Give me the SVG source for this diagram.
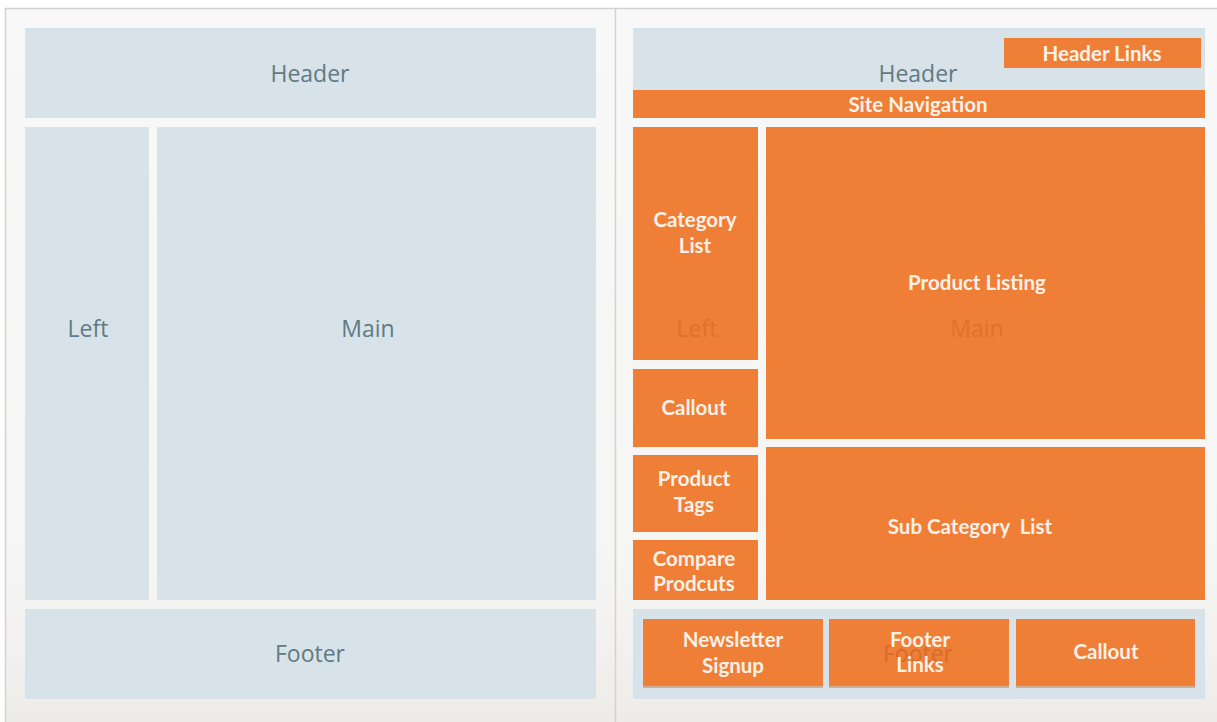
<svg xmlns="http://www.w3.org/2000/svg" width="1217" height="722" viewBox="0 0 1217 722">
<defs>
<linearGradient id="bg" x1="0" y1="0" x2="0" y2="1">
<stop offset="0" stop-color="#f8f8f8"/>
<stop offset="0.8" stop-color="#f5f5f4"/>
<stop offset="1" stop-color="#eeece9"/>
</linearGradient>
</defs>
<style>
.blue{fill:#d7e3e8}
.org{fill:#ef7e36}
.lbl{font-family:"Open Sans","Noto Sans",sans-serif;font-size:23px;fill:#627a84;text-anchor:middle;dominant-baseline:central}
.wl{font-family:Lato,"Open Sans",sans-serif;font-size:20.5px;font-weight:bold;fill:#fdf1e7;text-anchor:middle;dominant-baseline:central}
.faint{font-family:"Open Sans","Noto Sans",sans-serif;font-size:23px;fill:#e2702d;text-anchor:middle;dominant-baseline:central}
.sh{fill:#c9773f;opacity:0.5}
</style>
<rect x="0" y="0" width="1217" height="722" fill="#ffffff"/>
<rect x="5" y="8" width="1212" height="714" fill="url(#bg)"/>
<line x1="5" y1="8.5" x2="1217" y2="8.5" stroke="#d2d2d2" stroke-width="1.5"/>
<line x1="5.5" y1="8" x2="5.5" y2="722" stroke="#d2d2d2" stroke-width="1.5"/>
<line x1="615.5" y1="8" x2="615.5" y2="722" stroke="#d2d2d2" stroke-width="1.5"/>

<g id="left-header"><rect class="blue" x="25" y="28" width="571" height="90"/><text class="lbl" x="310" y="73">Header</text></g>
<g id="left-left"><rect class="blue" x="25" y="127" width="124" height="473"/><text class="lbl" x="88" y="328">Left</text></g>
<g id="left-main"><rect class="blue" x="157" y="127" width="439" height="473"/><text class="lbl" x="368" y="328">Main</text></g>
<g id="left-footer"><rect class="blue" x="25" y="609" width="571" height="90"/><text class="lbl" x="310" y="653">Footer</text></g>

<g id="right-header"><rect class="blue" x="633" y="28" width="572" height="90"/><text class="lbl" x="918" y="73">Header</text></g>
<g id="header-links"><rect class="org" x="1004" y="38" width="197" height="30"/><text class="wl" x="1102" y="53">Header Links</text></g>
<g id="site-navigation"><rect class="org" x="633" y="90" width="572" height="28"/><text class="wl" x="918" y="104">Site Navigation</text></g>
<g id="category-list"><rect class="org" x="633" y="127" width="125" height="233"/><text class="faint" x="697" y="328">Left</text><text class="wl" x="695" y="219">Category</text><text class="wl" x="695" y="245">List</text></g>
<g id="left-callout"><rect class="org" x="633" y="369" width="125" height="78"/><text class="wl" x="694" y="407">Callout</text></g>
<g id="product-tags"><rect class="org" x="633" y="455" width="125" height="77"/><text class="wl" x="694" y="478">Product</text><text class="wl" x="694" y="504">Tags</text></g>
<g id="compare-products"><rect class="org" x="633" y="540" width="125" height="60"/><text class="wl" x="694" y="558">Compare</text><text class="wl" x="694" y="583">Prodcuts</text></g>
<g id="product-listing"><rect class="org" x="766" y="127" width="439" height="312"/><text class="faint" x="977" y="328">Main</text><text class="wl" x="977" y="282">Product Listing</text></g>
<g id="sub-category-list"><rect class="org" x="766" y="447" width="439" height="153"/><text class="wl" x="970" y="526" xml:space="preserve">Sub Category  List</text></g>
<g id="right-footer"><rect class="blue" x="633" y="609" width="572" height="90"/></g>
<g id="newsletter-signup"><rect class="sh" x="643" y="620" width="180" height="68"/><rect class="org" x="643" y="619" width="180" height="67"/><text class="wl" x="733" y="639">Newsletter</text><text class="wl" x="733" y="665">Signup</text></g>
<g id="footer-links"><rect class="sh" x="829" y="620" width="180" height="68"/><rect class="org" x="829" y="619" width="180" height="67"/><text class="faint" x="918" y="653" style="fill:#d66c2b">Footer</text><text class="wl" x="920" y="639">Footer</text><text class="wl" x="920" y="664">Links</text></g>
<g id="footer-callout"><rect class="sh" x="1016" y="620" width="179" height="68"/><rect class="org" x="1016" y="619" width="179" height="67"/><text class="wl" x="1106" y="651">Callout</text></g>
<g id="connectors"></g>
</svg>
